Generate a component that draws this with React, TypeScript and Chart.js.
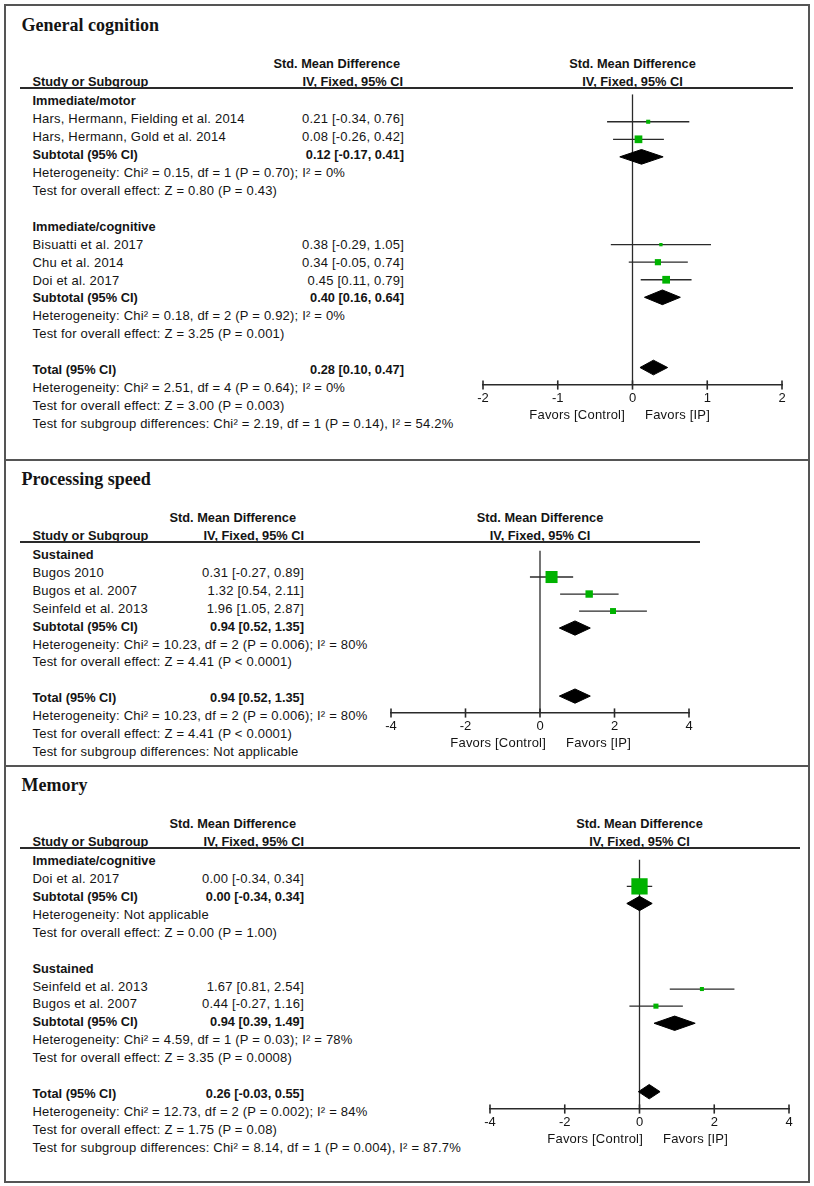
import React, { useEffect, useRef } from "react";
import { Chart, registerables } from "chart.js";

Chart.register(...registerables);

const SANS = '"Liberation Sans", Arial, Helvetica, sans-serif';
const SERIF = '"Liberation Serif", "Times New Roman", Times, serif';
const INK = "#141414";
const LINE = "#2a2a2a";
const GREEN = "#00b300";

// ---------------- shared labels ----------------
const colStudy = "Study or Subgroup";
const colEffect1 = "Std. Mean Difference";
const colEffect2 = "IV, Fixed, 95% CI";
const favorsLeft = "Favors [Control]";
const favorsRight = "Favors [IP]";
const subtotalLabel = "Subtotal (95% CI)";
const totalLabel = "Total (95% CI)";

// ---------------- General cognition ----------------
const gcTitle = "General cognition";
const gcSubgroups = ["Immediate/motor", "Immediate/cognitive"];
const gcStudies = [
  "Hars, Hermann, Fielding et al. 2014",
  "Hars, Hermann, Gold et al. 2014",
  "Bisuatti et al. 2017",
  "Chu et al. 2014",
  "Doi et al. 2017",
];
const gcStudyGroup = [0, 0, 1, 1, 1];
const gcEst = [0.21, 0.08, 0.38, 0.34, 0.45];
const gcLow = [-0.34, -0.26, -0.29, -0.05, 0.11];
const gcHigh = [0.76, 0.42, 1.05, 0.74, 0.79];
const gcWeight = [11.3, 29.6, 7.6, 21.9, 29.6];
const gcSubEst = [0.12, 0.4];
const gcSubLow = [-0.17, 0.16];
const gcSubHigh = [0.41, 0.64];
const gcSubHet = [
  "Heterogeneity: Chi² = 0.15, df = 1 (P = 0.70); I² = 0%",
  "Heterogeneity: Chi² = 0.18, df = 2 (P = 0.92); I² = 0%",
];
const gcSubZ = [
  "Test for overall effect: Z = 0.80 (P = 0.43)",
  "Test for overall effect: Z = 3.25 (P = 0.001)",
];
const gcTotal = [0.28, 0.1, 0.47];
const gcTotalNotes = [
  "Heterogeneity: Chi² = 2.51, df = 4 (P = 0.64); I² = 0%",
  "Test for overall effect: Z = 3.00 (P = 0.003)",
  "Test for subgroup differences: Chi² = 2.19, df = 1 (P = 0.14), I² = 54.2%",
];
const gcTicks = [-2, -1, 0, 1, 2];

// ---------------- Processing speed ----------------
const psTitle = "Processing speed";
const psSubgroups = ["Sustained"];
const psStudies = ["Bugos 2010", "Bugos et al. 2007", "Seinfeld et al. 2013"];
const psStudyGroup = [0, 0, 0];
const psEst = [0.31, 1.32, 1.96];
const psLow = [-0.27, 0.54, 1.05];
const psHigh = [0.89, 2.11, 2.87];
const psWeight = [51.2, 28.0, 20.8];
const psSubEst = [0.94];
const psSubLow = [0.52];
const psSubHigh = [1.35];
const psSubHet = ["Heterogeneity: Chi² = 10.23, df = 2 (P = 0.006); I² = 80%"];
const psSubZ = ["Test for overall effect: Z = 4.41 (P < 0.0001)"];
const psTotal = [0.94, 0.52, 1.35];
const psTotalNotes = [
  "Heterogeneity: Chi² = 10.23, df = 2 (P = 0.006); I² = 80%",
  "Test for overall effect: Z = 4.41 (P < 0.0001)",
  "Test for subgroup differences: Not applicable",
];
const psTicks = [-4, -2, 0, 2, 4];

// ---------------- Memory ----------------
const memTitle = "Memory";
const memSubgroups = ["Immediate/cognitive", "Sustained"];
const memStudies = ["Doi et al. 2017", "Seinfeld et al. 2013", "Bugos et al. 2007"];
const memStudyGroup = [0, 1, 1];
const memEst = [0.0, 1.67, 0.44];
const memLow = [-0.34, 0.81, -0.27];
const memHigh = [0.34, 2.54, 1.16];
const memWeight = [72.4, 11.2, 16.4];
const memSubEst = [0.0, 0.94];
const memSubLow = [-0.34, 0.39];
const memSubHigh = [0.34, 1.49];
const memSubHet = [
  "Heterogeneity: Not applicable",
  "Heterogeneity: Chi² = 4.59, df = 1 (P = 0.03); I² = 78%",
];
const memSubZ = [
  "Test for overall effect: Z = 0.00 (P = 1.00)",
  "Test for overall effect: Z = 3.35 (P = 0.0008)",
];
const memTotal = [0.26, -0.03, 0.55];
const memTotalNotes = [
  "Heterogeneity: Chi² = 12.73, df = 2 (P = 0.002); I² = 84%",
  "Test for overall effect: Z = 1.75 (P = 0.08)",
  "Test for subgroup differences: Chi² = 8.14, df = 1 (P = 0.004), I² = 87.7%",
];
const memTicks = [-4, -2, 0, 2, 4];

// ---------------- assembly ----------------
type PanelData = {
  title: string;
  subgroups: string[];
  studies: string[];
  group: number[];
  est: number[];
  low: number[];
  high: number[];
  weight: number[];
  subEst: number[];
  subLow: number[];
  subHigh: number[];
  subHet: string[];
  subZ: string[];
  total: number[];
  totalNotes: string[];
  ticks: number[];
};

const PANELS: PanelData[] = [
  {
    title: gcTitle, subgroups: gcSubgroups, studies: gcStudies, group: gcStudyGroup,
    est: gcEst, low: gcLow, high: gcHigh, weight: gcWeight,
    subEst: gcSubEst, subLow: gcSubLow, subHigh: gcSubHigh, subHet: gcSubHet, subZ: gcSubZ,
    total: gcTotal, totalNotes: gcTotalNotes, ticks: gcTicks,
  },
  {
    title: psTitle, subgroups: psSubgroups, studies: psStudies, group: psStudyGroup,
    est: psEst, low: psLow, high: psHigh, weight: psWeight,
    subEst: psSubEst, subLow: psSubLow, subHigh: psSubHigh, subHet: psSubHet, subZ: psSubZ,
    total: psTotal, totalNotes: psTotalNotes, ticks: psTicks,
  },
  {
    title: memTitle, subgroups: memSubgroups, studies: memStudies, group: memStudyGroup,
    est: memEst, low: memLow, high: memHigh, weight: memWeight,
    subEst: memSubEst, subLow: memSubLow, subHigh: memSubHigh, subHet: memSubHet, subZ: memSubZ,
    total: memTotal, totalNotes: memTotalNotes, ticks: memTicks,
  },
];

type Layout = {
  boxTop: number;
  boxH: number;
  headerY: number;
  row0: number;
  spacing: number;
  xL: number;
  xR: number;
  valRight: number;
  stdRight: number;
  ivRight: number;
  favCtrlRight: number;
  favIPLeft: number;
};

const LAYOUTS: Layout[] = [
  { boxTop: 4, boxH: 457, headerY: 88, row0: 98.2, spacing: 17.93, xL: 483, xR: 782, valRight: 404, stdRight: 400, ivRight: 403, favCtrlRight: 625, favIPLeft: 645 },
  { boxTop: 459, boxH: 308, headerY: 542, row0: 552, spacing: 17.9, xL: 391, xR: 689, valRight: 304, stdRight: 296, ivRight: 304, favCtrlRight: 546, favIPLeft: 566 },
  { boxTop: 765, boxH: 418, headerY: 848, row0: 858.2, spacing: 17.9, xL: 490, xR: 789, valRight: 304, stdRight: 296, ivRight: 304, favCtrlRight: 643, favIPLeft: 663 },
];

type Row = {
  label: string;
  value?: string;
  bold?: boolean;
  kind: "head" | "study" | "sub" | "total" | "note" | "blank";
  ref?: number;
};

const fmtCI = (e: number, l: number, h: number) =>
  `${e.toFixed(2)} [${l.toFixed(2)}, ${h.toFixed(2)}]`;

function buildRows(d: PanelData): Row[] {
  const rows: Row[] = [];
  d.subgroups.forEach((g, gi) => {
    rows.push({ label: g, bold: true, kind: "head" });
    d.studies.forEach((s, si) => {
      if (d.group[si] === gi) {
        rows.push({ label: s, value: fmtCI(d.est[si], d.low[si], d.high[si]), kind: "study", ref: si });
      }
    });
    rows.push({ label: subtotalLabel, value: fmtCI(d.subEst[gi], d.subLow[gi], d.subHigh[gi]), bold: true, kind: "sub", ref: gi });
    rows.push({ label: d.subHet[gi], kind: "note" });
    rows.push({ label: d.subZ[gi], kind: "note" });
    rows.push({ label: "", kind: "blank" });
  });
  rows.push({ label: totalLabel, value: fmtCI(d.total[0], d.total[1], d.total[2]), bold: true, kind: "total" });
  d.totalNotes.forEach((n) => rows.push({ label: n, kind: "note" }));
  return rows;
}

// ---------------- text helper ----------------
function Txt(props: {
  x: number;
  cy: number;
  text: string;
  bold?: boolean;
  align?: "left" | "right" | "center";
  size?: number;
  family?: string;
  lh?: number;
  spacing?: number;
}) {
  const { x, cy, text, bold, align = "left", family = SANS } = props;
  const size = props.size ?? (bold ? 12.8 : 13);
  const lh = props.lh ?? 16;
  const style: React.CSSProperties = {
    position: "absolute",
    top: cy - lh / 2,
    height: lh,
    lineHeight: `${lh}px`,
    fontSize: size,
    fontFamily: family,
    fontWeight: bold ? "bold" : "normal",
    letterSpacing: props.spacing ?? (bold ? 0 : 0.2),
    whiteSpace: "nowrap",
    color: INK,
  };
  if (align === "left") {
    style.left = x;
  } else if (align === "right") {
    style.left = x - 400;
    style.width = 400;
    style.textAlign = "right";
  } else {
    style.left = x - 200;
    style.width = 400;
    style.textAlign = "center";
  }
  return <div style={style}>{text}</div>;
}

// ---------------- forest chart ----------------
const PADX = 25;
const AXIS_H = 30;

function ForestCanvas({ d, L, rows, axisY }: { d: PanelData; L: Layout; rows: Row[]; axisY: number }) {
  const ref = useRef<HTMLCanvasElement>(null);
  const w = L.xR - L.xL + 2 * PADX;
  const h = axisY - L.headerY + AXIS_H;

  useEffect(() => {
    const canvas = ref.current;
    if (!canvas) return;
    const yMin = (L.headerY - L.row0) / L.spacing;
    const yMax = (axisY - L.row0) / L.spacing;
    const halfH = 7.5 / L.spacing;

    const pts: { x: number; y: number }[] = [];
    const radii: number[] = [];
    const ciSets: any[] = [];
    const diamondSets: any[] = [];

    rows.forEach((r, i) => {
      if (r.kind === "study" && r.ref !== undefined) {
        const s = r.ref;
        pts.push({ x: d.est[s], y: i });
        const side = 0.2 * d.weight[s] + 1.8;
        radii.push(side / Math.SQRT2);
        ciSets.push({
          data: [
            { x: d.low[s], y: i },
            { x: d.high[s], y: i },
          ],
          showLine: true,
          borderColor: LINE,
          borderWidth: 1.3,
          pointRadius: 0,
          order: 2,
        });
      }
      if (r.kind === "sub" || r.kind === "total") {
        const e = r.kind === "sub" ? d.subEst[r.ref!] : d.total[0];
        const lo = r.kind === "sub" ? d.subLow[r.ref!] : d.total[1];
        const hi = r.kind === "sub" ? d.subHigh[r.ref!] : d.total[2];
        diamondSets.push({
          data: [
            { x: lo, y: i },
            { x: e, y: i - halfH },
            { x: hi, y: i },
            { x: e, y: i + halfH },
            { x: lo, y: i },
          ],
          showLine: true,
          fill: "shape",
          backgroundColor: "#000",
          borderColor: "#000",
          borderWidth: 1,
          pointRadius: 0,
          tension: 0,
          order: 1,
        });
      }
    });

    const datasets: any[] = [
      {
        data: pts,
        pointStyle: "rect",
        pointRadius: radii,
        pointBackgroundColor: GREEN,
        pointBorderWidth: 0,
        showLine: false,
        clip: false,
        order: 0,
      },
      ...diamondSets,
      ...ciSets,
      {
        data: [
          { x: 0, y: yMin },
          { x: 0, y: yMax },
        ],
        showLine: true,
        borderColor: LINE,
        borderWidth: 1.3,
        pointRadius: 0,
        order: 3,
      },
      {
        data: d.ticks.map((t) => ({ x: t, y: yMax })),
        showLine: false,
        pointStyle: "line",
        pointRotation: 90,
        pointRadius: 4.6,
        pointBorderColor: LINE,
        pointBorderWidth: 1.6,
        clip: false,
        order: 4,
      },
    ];

    const ticks = d.ticks;
    const chart = new Chart(canvas, {
      type: "scatter",
      data: { datasets },
      options: {
        animation: false,
        responsive: false,
        maintainAspectRatio: false,
        events: [],
        layout: { padding: { left: PADX, right: PADX, top: 0, bottom: 0 } },
        plugins: { legend: { display: false }, tooltip: { enabled: false } },
        scales: {
          x: {
            type: "linear",
            min: ticks[0],
            max: ticks[ticks.length - 1],
            afterBuildTicks: (scale: any) => {
              scale.ticks = ticks.map((v) => ({ value: v }));
            },
            afterFit: (scale: any) => {
              scale.height = AXIS_H;
            },
            grid: { display: false, drawTicks: false },
            border: { display: true, color: LINE, width: 1.6 },
            ticks: {
              padding: 6,
              autoSkip: false,
              maxRotation: 0,
              color: INK,
              font: { family: SANS, size: 13 },
              callback: (v: any) => String(v),
            },
          },
          y: {
            type: "linear",
            display: false,
            reverse: true,
            min: yMin,
            max: yMax,
          },
        },
      } as any,
    });
    return () => chart.destroy();
  }, []);

  return (
    <canvas
      ref={ref}
      width={w}
      height={h}
      style={{ position: "absolute", left: L.xL - PADX, top: L.headerY, width: w, height: h }}
    />
  );
}

// ---------------- panel ----------------
function Panel({ d, L }: { d: PanelData; L: Layout }) {
  const rows = buildRows(d);
  const totalIdx = rows.findIndex((r) => r.kind === "total");
  const axisY = Math.round(L.row0 + (totalIdx + 1) * L.spacing);
  const plotCx = (L.xL + L.xR) / 2;
  const nameX = 32.5;
  const textOff = 3;

  return (
    <>
      <div
        style={{
          position: "absolute",
          left: 4,
          top: L.boxTop,
          width: 806,
          height: L.boxH,
          border: "2px solid #555",
          boxSizing: "border-box",
        }}
      />
      <Txt x={21.5} cy={L.headerY - 63.3} text={d.title} bold size={18} family={SERIF} lh={22} />
      <Txt x={L.stdRight} cy={L.headerY - 24.5} text={colEffect1} bold align="right" />
      <Txt x={nameX} cy={L.headerY - 6.5} text={colStudy} bold />
      <Txt x={L.ivRight} cy={L.headerY - 6.5} text={colEffect2} bold align="right" />
      <Txt x={plotCx} cy={L.headerY - 24.5} text={colEffect1} bold align="center" />
      <Txt x={plotCx} cy={L.headerY - 6.5} text={colEffect2} bold align="center" />
      <div
        style={{
          position: "absolute",
          left: 20,
          top: L.headerY - 0.8,
          width: L.xR + 11 - 20,
          height: 1.6,
          background: LINE,
        }}
      />
      {rows.map((r, i) => {
        if (r.kind === "blank") return null;
        const cy = L.row0 + i * L.spacing + textOff;
        return (
          <React.Fragment key={i}>
            <Txt x={nameX} cy={cy} text={r.label} bold={r.bold} />
            {r.value ? <Txt x={L.valRight} cy={cy} text={r.value} bold={r.bold} align="right" /> : null}
          </React.Fragment>
        );
      })}
      <ForestCanvas d={d} L={L} rows={rows} axisY={axisY} />
      <Txt x={L.favCtrlRight} cy={axisY + 30} text={favorsLeft} align="right" />
      <Txt x={L.favIPLeft} cy={axisY + 30} text={favorsRight} />
    </>
  );
}

export default function App() {
  return (
    <div
      style={{
        position: "absolute",
        left: 0,
        top: 0,
        width: 814,
        height: 1186,
        background: "#fff",
        overflow: "hidden",
      }}
    >
      {PANELS.map((p, i) => (
        <Panel key={i} d={p} L={LAYOUTS[i]} />
      ))}
    </div>
  );
}
